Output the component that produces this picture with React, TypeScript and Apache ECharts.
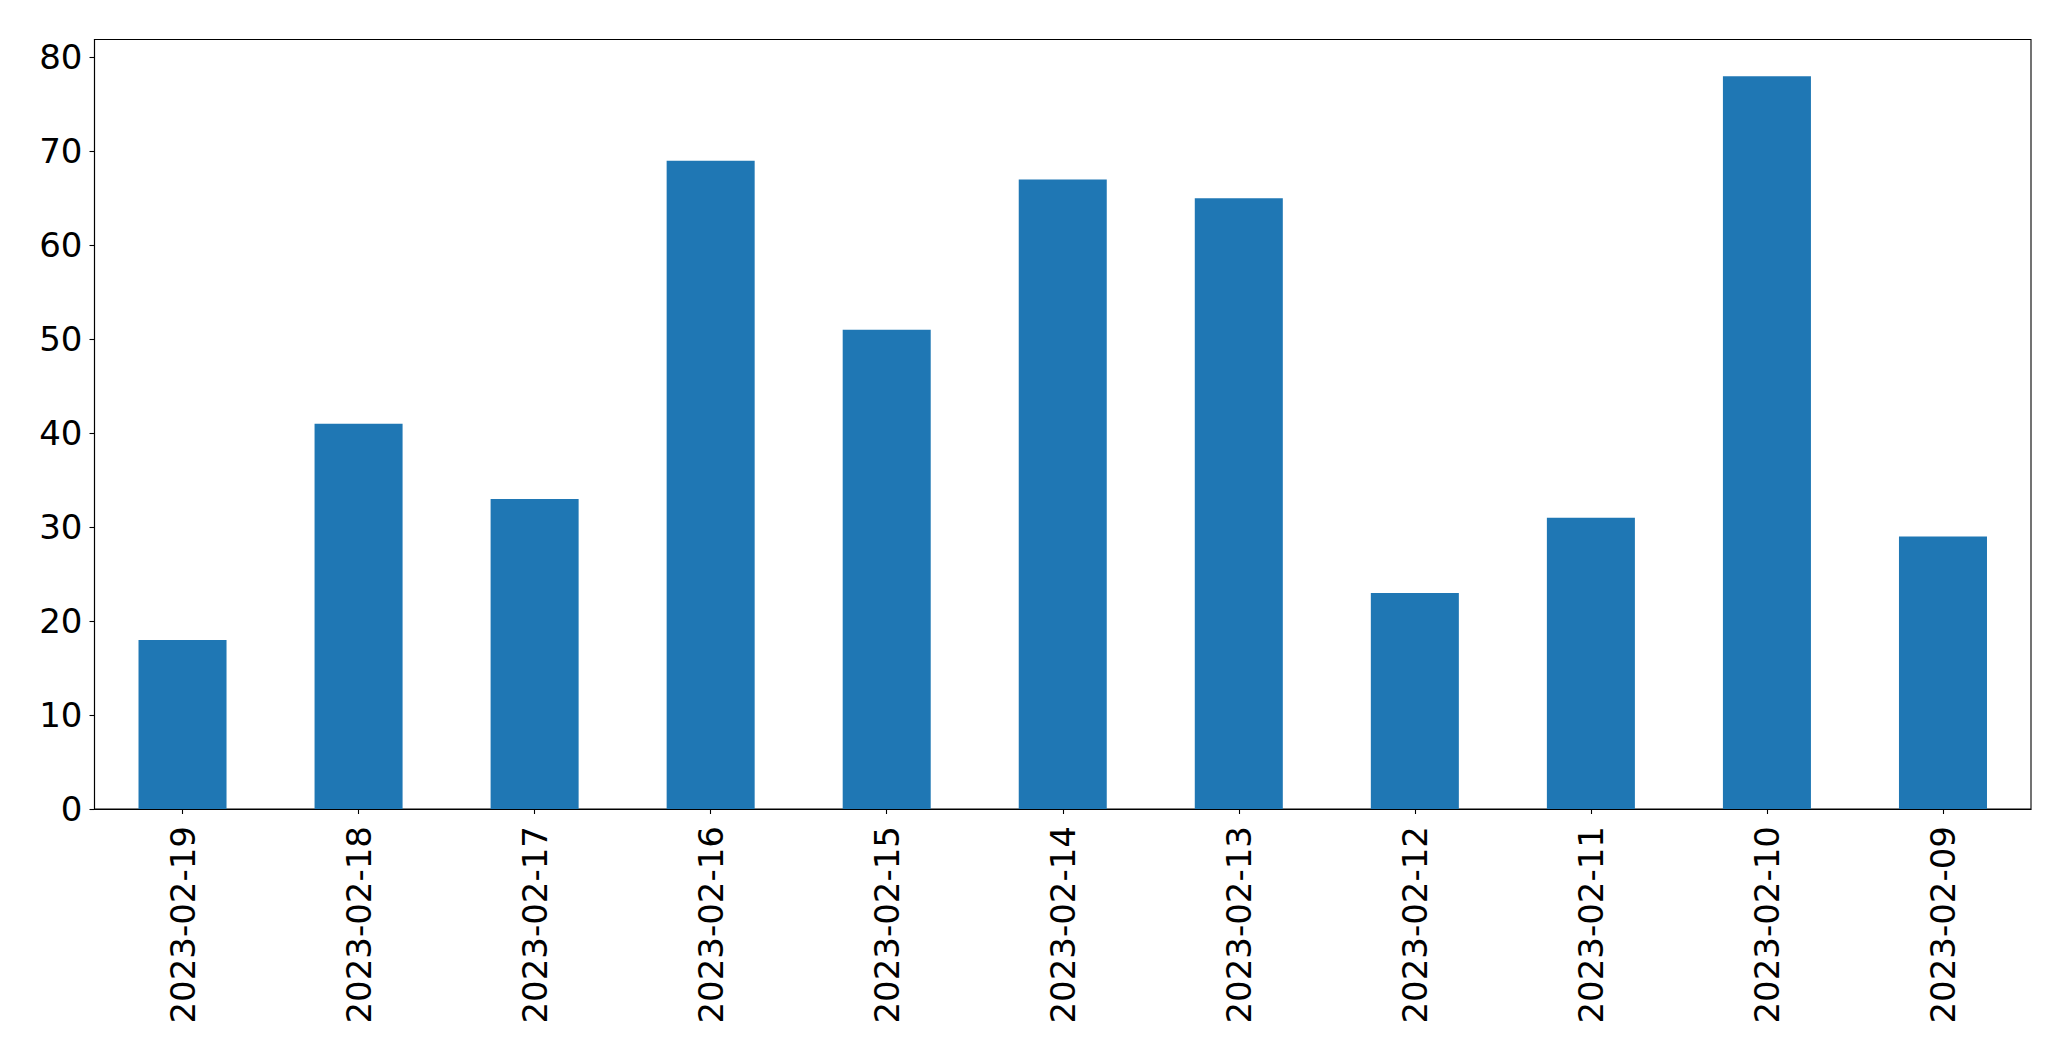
import React, { useEffect, useRef } from "react";
import * as echarts from "echarts";

const categories = [
  "2023-02-19", "2023-02-18", "2023-02-17", "2023-02-16", "2023-02-15", "2023-02-14",
  "2023-02-13", "2023-02-12", "2023-02-11", "2023-02-10", "2023-02-09",
];
const values = [18, 41, 33, 69, 51, 67, 65, 23, 31, 78, 29];
const yTicks = [0, 10, 20, 30, 40, 50, 60, 70, 80];

export default function App() {
  const ref = useRef<HTMLDivElement>(null);
  useEffect(() => {
    if (!ref.current) return;
    const chart = echarts.init(ref.current, null, { renderer: "svg" });
    const font = "DejaVu Sans";
    chart.setOption({
      animation: false,
      backgroundColor: "#ffffff",
      grid: {
        left: 94.5,
        top: 39.5,
        right: 40,
        bottom: 252,
        show: true,
        borderColor: "#000000",
        borderWidth: 1.1,
        backgroundColor: "transparent",
      },
      xAxis: {
        type: "category",
        data: categories,
        boundaryGap: true,
        axisLine: { show: true, lineStyle: { color: "#000000", width: 1.1 } },
        axisTick: { show: true, alignWithLabel: true, length: 5, lineStyle: { color: "#000000", width: 1.1 } },
        axisLabel: {
          rotate: 90,
          margin: 17,
          fontSize: 34,
          fontFamily: font,
          color: "#000000",
          interval: 0,
        },
        splitLine: { show: false },
      },
      yAxis: {
        type: "value",
        min: 0,
        max: 81.9,
        interval: 10,
        axisLine: { show: true, lineStyle: { color: "#000000", width: 1.1 } },
        axisTick: { show: true, length: 5, customValues: yTicks, lineStyle: { color: "#000000", width: 1.1 } },
        axisLabel: {
          margin: 12,
          fontSize: 34,
          fontFamily: font,
          color: "#000000",
          customValues: yTicks,
        },
        splitLine: { show: false },
      },
      series: [
        {
          type: "bar",
          data: values,
          barWidth: "50%",
          itemStyle: { color: "#1f77b4" },
        },
      ],
    });
    return () => chart.dispose();
  }, []);
  return (
    <div
      ref={ref}
      style={{ position: "absolute", left: 0, top: 0, width: 2071, height: 1061 }}
    />
  );
}
